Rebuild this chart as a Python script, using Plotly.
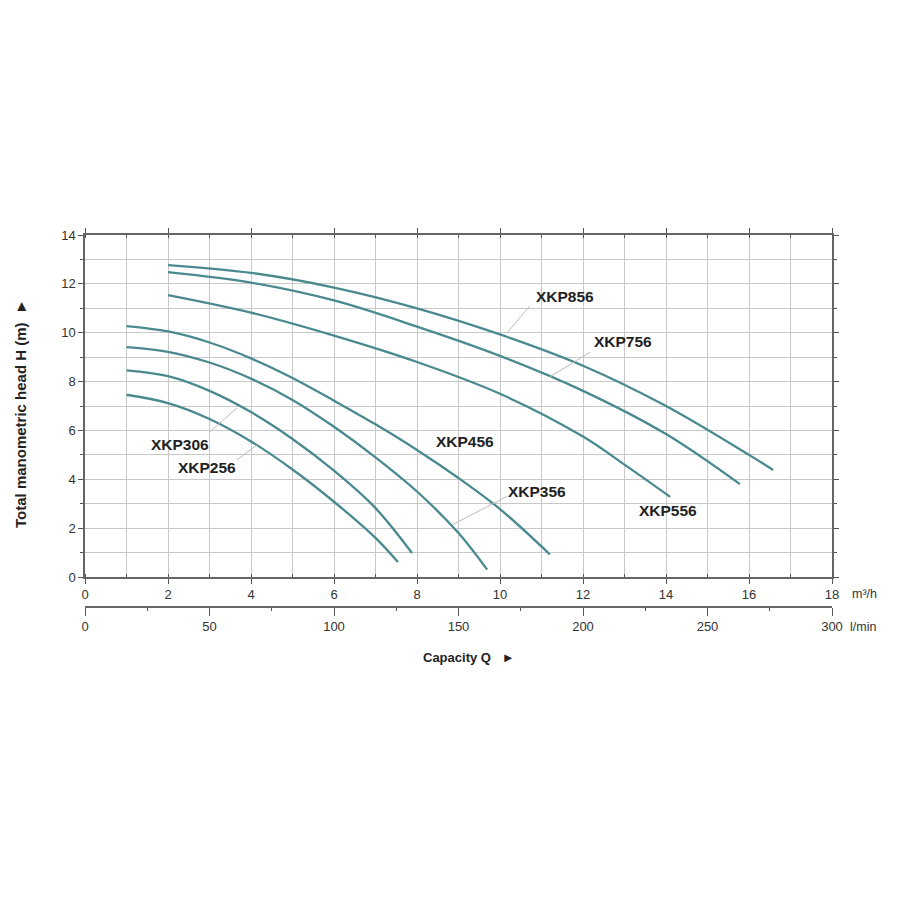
import plotly.graph_objects as go

# ---- data (Q in m3/h, H in m) ----
XKP856_q = [2, 4, 6, 8, 10, 12, 14, 16, 16.58]
XKP856_h = [12.77, 12.45, 11.85, 11.0, 9.93, 8.65, 7.0, 5.0, 4.38]

XKP756_q = [2, 4, 6, 8, 10, 12, 14, 15.78]
XKP756_h = [12.48, 12.05, 11.32, 10.25, 9.05, 7.62, 5.85, 3.8]

XKP556_q = [2, 4, 6, 8, 10, 12, 13, 14.1]
XKP556_h = [11.54, 10.82, 9.88, 8.8, 7.5, 5.75, 4.6, 3.28]

XKP456_q = [1, 2, 3, 4, 5, 6, 7, 8, 9, 10, 11, 11.2]
XKP456_h = [10.27, 10.05, 9.6, 8.95, 8.15, 7.22, 6.25, 5.2, 4.05, 2.78, 1.25, 0.92]

XKP356_q = [1, 2, 3, 4, 5, 6, 7, 8, 9, 9.69]
XKP356_h = [9.41, 9.22, 8.78, 8.12, 7.25, 6.15, 4.9, 3.5, 1.8, 0.3]

XKP306_q = [1, 2, 3, 4, 5, 6, 7, 7.88]
XKP306_h = [8.46, 8.22, 7.62, 6.75, 5.65, 4.35, 2.82, 0.98]

XKP256_q = [1, 2, 3, 4, 5, 6, 7, 7.54]
XKP256_h = [7.46, 7.12, 6.47, 5.55, 4.4, 3.08, 1.6, 0.61]

series = [
    ("XKP856", XKP856_q, XKP856_h),
    ("XKP756", XKP756_q, XKP756_h),
    ("XKP556", XKP556_q, XKP556_h),
    ("XKP456", XKP456_q, XKP456_h),
    ("XKP356", XKP356_q, XKP356_h),
    ("XKP306", XKP306_q, XKP306_h),
    ("XKP256", XKP256_q, XKP256_h),
]

# label placement: (label x, label y, leader x0, y0, x1, y1 or None)
labels = {
    "XKP856": (11.57, 11.5, (10.17, 9.99, 10.72, 11.1)),
    "XKP756": (12.96, 9.66, (11.2, 8.19, 12.17, 9.2)),
    "XKP556": (14.05, 2.74, None),
    "XKP456": (9.16, 5.53, None),
    "XKP356": (10.89, 3.48, (8.84, 2.13, 10.17, 3.3)),
    "XKP306": (2.29, 5.44, (3.01, 5.94, 3.66, 6.92)),
    "XKP256": (2.94, 4.5, (3.66, 4.79, 4.14, 5.4)),
}

x_ticks_m3h = [0, 2, 4, 6, 8, 10, 12, 14, 16, 18]
x_ticks_lmin = [0, 50, 100, 150, 200, 250, 300]
y_ticks = [0, 2, 4, 6, 8, 10, 12, 14]

curve_color = "#4a8a8f"
font_family = "Liberation Sans, Arial, sans-serif"

# pixel geometry of the plot area
W, H = 900, 900
L, R, TOP = 85, 832, 235
AX_X = 577      # m3/h axis line (y = 0)
AX_L = 607      # l/min axis line
ph = AX_L - TOP
pw = R - L

fig = go.Figure()
for name, q, h in series:
    fig.add_trace(go.Scatter(
        x=q, y=h, mode="lines", name=name,
        line=dict(color=curve_color, width=2.3, shape="spline", smoothing=1.0),
        hoverinfo="x+y+name", showlegend=False,
    ))

# invisible trace for the l/min axis
fig.add_trace(go.Scatter(x=[0, 300], y=[0, 0], xaxis="x2", mode="lines",
                         line=dict(width=0), hoverinfo="skip", showlegend=False))

for name, (lx, ly, leader) in labels.items():
    fig.add_annotation(x=lx, y=ly, text="<b>%s</b>" % name, showarrow=False,
                       xanchor="center", yanchor="middle",
                       font=dict(family=font_family, size=15.5, color="#222"),
                       xref="x", yref="y")
    if leader:
        x0, y0, x1, y1 = leader
        fig.add_shape(type="line", x0=x0, y0=y0, x1=x1, y1=y1, xref="x", yref="y",
                      line=dict(color="#bbbbbb", width=1))

fig.update_layout(
    width=W, height=H,
    paper_bgcolor="white", plot_bgcolor="white",
    margin=dict(l=L, r=W - R, t=TOP, b=H - AX_L, autoexpand=False),
    font=dict(family=font_family, size=13, color="#333"),
    xaxis=dict(
        range=[0, 18], tickvals=x_ticks_m3h, showgrid=True, gridcolor="#c8c8c8", gridwidth=1,
        minor=dict(dtick=1, showgrid=True, gridcolor="#c8c8c8", ticks="inside", ticklen=3, tickcolor="#555"),
        ticks="outside", ticklen=5, tickcolor="#555",
        showline=True, linecolor="#666", linewidth=1.5, mirror="ticks",
        zeroline=False, anchor="y", fixedrange=True,
    ),
    xaxis2=dict(
        range=[0, 300], tickvals=x_ticks_lmin, overlaying="x", anchor="free", position=0,
        side="bottom", showgrid=False, zeroline=False,
        ticks="outside", ticklen=8, tickcolor="#555",
        minor=dict(dtick=25, ticks="outside", ticklen=3, tickcolor="#555"),
        showline=True, linecolor="#666", linewidth=1.5, fixedrange=True,
    ),
    yaxis=dict(
        range=[0, 14], tickvals=y_ticks, domain=[(AX_L - AX_X) / ph, 1],
        showgrid=True, gridcolor="#c8c8c8", gridwidth=1,
        minor=dict(dtick=1, showgrid=True, gridcolor="#c8c8c8", ticks="outside", ticklen=3, tickcolor="#555"),
        ticks="outside", ticklen=5, tickcolor="#555",
        showline=True, linecolor="#666", linewidth=1.5, mirror="ticks",
        zeroline=False, fixedrange=True,
    ),
)


def px_annot(text, px, py, size, angle=0, color="#222"):
    fig.add_annotation(text=text, x=(px - L) / pw, y=(AX_L - py) / ph,
                       xref="paper", yref="paper", showarrow=False,
                       xanchor="center", yanchor="middle", textangle=angle,
                       font=dict(family=font_family, size=size, color=color))


px_annot("<b>Capacity Q   ►</b>", 469, 657, 13)
px_annot("<b>Total manometric head H (m)  ►</b>", 20, 414, 15, angle=-90)
px_annot("m³/h", 864, 594, 12.5, color="#333")
px_annot("l/min", 863, 627, 12.5, color="#333")

fig.write_html("out.html", config={"displayModeBar": False},
               post_script="document.body.style.margin='0';document.documentElement.style.overflow='hidden';")
